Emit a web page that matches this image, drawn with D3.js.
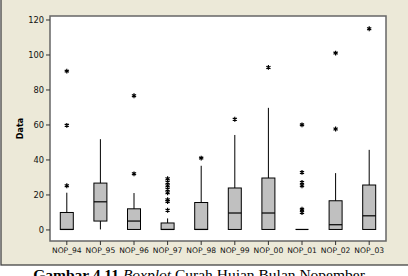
<!DOCTYPE html>
<html>
<head>
<meta charset="utf-8">
<script src="https://cdn.jsdelivr.net/npm/d3@7"></script>
<style>
  body { margin: 0; background: #fff; }
  svg { display: block; }
</style>
</head>
<body>
<script>
// Categories and box statistics
const categories = ["NOP_94", "NOP_95", "NOP_96", "NOP_97", "NOP_98", "NOP_99", "NOP_00", "NOP_01", "NOP_02", "NOP_03"];
const q1 = [0, 4.8, 0, 0, 0, 0, 0, 0, 0, 0];
const median = [0, 15.8, 4.8, 0, 0, 9.4, 9.4, 0, 2.7, 7.8];
const q3 = [9.7, 26.5, 11.8, 3.7, 15.4, 23.7, 29.4, 0, 16.4, 25.4];
const whiskerLow = [0, 0, 0, 0, 0, 0, 0, 0, 0, 0];
const whiskerHigh = [21, 51.6, 20.8, 6.3, 36.4, 54, 69.5, 0, 32.2, 45.5];
const outliers = [
  [25, 59.5, 90.5],
  [],
  [31.8, 76.4],
  [11, 16, 17, 21, 23, 25, 27, 29],
  [40.8],
  [63],
  [92.6],
  [9.7, 11.6, 25, 26.9, 32.6, 59.8],
  [57.4, 100.8],
  [114.7]
];
const yTicks = [0, 20, 40, 60, 80, 100, 120];

const W = 408, H = 276;
const margin = {top: 16, right: 22, bottom: 35, left: 50};
const plotW = W - margin.left - margin.right;
const plotH = 241 - margin.top;

const svg = d3.select("body").append("svg")
  .attr("width", W).attr("height", H);

// beige panel
svg.append("rect")
  .attr("x", 1).attr("y", -2).attr("width", W + 2).attr("height", 267)
  .attr("fill", "#ece9d8").attr("stroke", "#444").attr("stroke-width", 1.3);

const x = d3.scaleBand().domain(categories).range([0, plotW]);
const y = d3.scaleLinear().domain([-6.6, 122]).range([plotH, 0]);

const g = svg.append("g").attr("transform", `translate(${margin.left},${margin.top})`);

g.append("rect").attr("width", plotW).attr("height", plotH)
  .attr("fill", "#fff").attr("stroke", "#666").attr("stroke-width", 1.5);

// axes
const yAxis = g.append("g")
  .call(d3.axisLeft(y).tickValues(yTicks).tickSize(4).tickPadding(2));
const xAxis = g.append("g").attr("transform", `translate(0,${plotH})`)
  .call(d3.axisBottom(x).tickSize(4).tickPadding(3));
[xAxis, yAxis].forEach(a => {
  a.select(".domain").remove();
  a.selectAll("line").attr("stroke", "#333");
  a.selectAll("text").attr("font-family", "DejaVu Sans").attr("font-size", 7.6).attr("fill", "#111");
});
yAxis.selectAll("text").attr("font-size", 8.3);

svg.append("text")
  .attr("transform", `translate(23,${margin.top + plotH / 2}) rotate(-90)`)
  .attr("text-anchor", "middle")
  .attr("font-family", "DejaVu Sans").attr("font-weight", "bold").attr("font-size", 8)
  .text("Data");

const bw = 13;
const boxes = g.selectAll("g.box").data(categories).join("g")
  .attr("class", "box")
  .attr("transform", d => `translate(${x(d) + x.bandwidth() / 2},0)`);

boxes.append("line")
  .attr("y1", (d, i) => y(whiskerLow[i])).attr("y2", (d, i) => y(whiskerHigh[i]))
  .attr("stroke", "#000").attr("stroke-width", 1);

boxes.append("rect")
  .attr("x", -bw / 2).attr("width", bw)
  .attr("y", (d, i) => y(q3[i]))
  .attr("height", (d, i) => y(q1[i]) - y(q3[i]))
  .attr("fill", "#c0c0c0").attr("stroke", "#000").attr("stroke-width", 1);

boxes.append("line")
  .attr("x1", -bw / 2).attr("x2", bw / 2)
  .attr("y1", (d, i) => y(median[i])).attr("y2", (d, i) => y(median[i]))
  .attr("stroke", "#000").attr("stroke-width", 1.2);

const star = d3.symbol(d3.symbolAsterisk, 16);
boxes.selectAll("path.out").data((d, i) => outliers[i]).join("path")
  .attr("class", "out")
  .attr("d", star)
  .attr("transform", v => `translate(0,${y(v)})`)
  .attr("fill", "none").attr("stroke", "#000").attr("stroke-width", 1.2);

// caption (partially cut off at the bottom, as in the reference)
const cap = svg.append("text")
  .attr("x", 199).attr("y", 280).attr("text-anchor", "middle")
  .attr("font-family", "Liberation Serif").attr("font-size", 15.5);
cap.append("tspan").attr("font-weight", "bold").text("Gambar 4.11 ");
cap.append("tspan").attr("font-style", "italic").text("Boxplot");
cap.append("tspan").text(" Curah Hujan Bulan Nopember");
</script>
</body>
</html>
